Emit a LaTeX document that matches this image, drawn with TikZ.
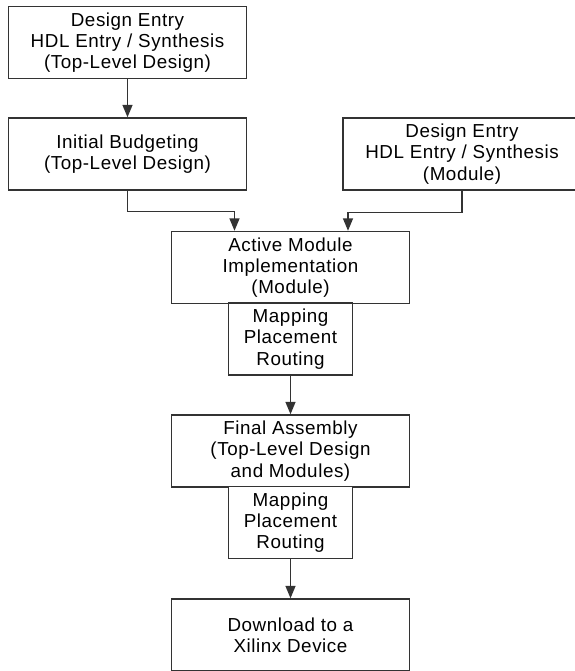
\documentclass[tikz,border=0pt]{standalone}
\usepackage{fontspec}
\setmainfont{Liberation Sans}[LetterSpace=3]
\usetikzlibrary{positioning}
\usetikzlibrary{arrows.meta}

\tikzset{
  stage/.style={draw=black!80, line width=0.8pt, fill=white, align=center,
    minimum width=4.76cm, minimum height=1.44cm, inner sep=0pt,
    font=\fontsize{10.7}{12.1}\selectfont},
  substage/.style={stage, minimum width=2.48cm},
  flow/.style={draw=black!80, line width=0.8pt, -{Triangle[length=0.25cm,width=0.2cm]}}
}

\begin{document}
\begin{tikzpicture}[node distance=2cm,on grid]
   \useasboundingbox (0,0) rectangle (11.5,-13.42);
   \clip (0,0) rectangle (11.5,-13.42);
   \node[stage] (topentry) at (2.55,-0.85) {Design Entry\\HDL Entry / Synthesis\\(Top-Level Design)};
   \node[stage] (budget) [below=2.23cm of topentry] {Initial Budgeting\\(Top-Level Design)};
   \node[stage] (modentry) [right=6.69cm of budget] {Design Entry\\HDL Entry / Synthesis\\(Module)};
   \node[stage] (active) [below right=2.27cm and 3.26cm of budget] {Active Module\\Implementation\\(Module)};
   \node[substage] (map1) [below=1.43cm of active] {Mapping\\Placement\\Routing};
   \node[stage] (final) [below=2.24cm of map1] {Final Assembly\\(Top-Level Design\\and Modules)};
   \node[substage] (map2) [below=1.43cm of final] {Mapping\\Placement\\Routing};
   \node[stage] (download) [below=2.25cm of map2] {Download to a\\Xilinx Device};
   \coordinate (inleft) at ([xshift=-1.12cm]active.north);
   \coordinate (inright) at ([xshift=1.15cm]active.north);
    \draw[flow] (topentry) -- (budget);
    \draw[flow] (budget.south) -- ++(0,-0.42) -| (inleft);
    \draw[flow] (modentry.south) -- ++(0,-0.44) -| (inright);
    \draw[flow] (map1) -- (final);
    \draw[flow] (map2) -- (download);
\end{tikzpicture}
\end{document}
